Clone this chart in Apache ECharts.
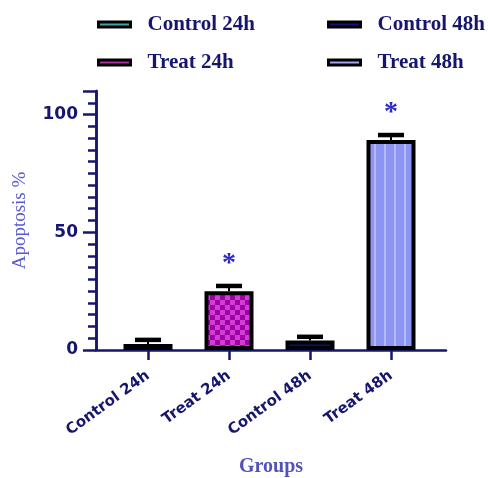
<!DOCTYPE html>
<html>
<head>
<meta charset="utf-8">
<script src="https://cdn.jsdelivr.net/npm/echarts@6/dist/echarts.min.js"></script>
<style>
  html, body { margin: 0; padding: 0; background: #fff; }
  #chart { width: 488px; height: 478px; }
</style>
</head>
<body>
<div id="chart"></div>
<script>
// Apoptosis (%) per group, mean with upper error bar
const categories = ['Control 24h', 'Treat 24h', 'Control 48h', 'Treat 48h'];
const means = [2.5, 25.0, 4.0, 89.2];
const errors = [1.8, 2.2, 1.6, 2.1];
const significance = ['', '*', '', '*'];
const legendRows = [['Control 24h', 'Control 48h'], ['Treat 24h', 'Treat 48h']];
const majorTicks = [0, 50, 100];

const NAVY = '#16166e';

function pattern(w, h, draw) {
  const c = document.createElement('canvas');
  c.width = w; c.height = h;
  draw(c.getContext('2d'));
  return { image: c, repeat: 'repeat' };
}

// fills for each group
const fills = {
  'Control 24h': pattern(8, 6, ctx => {
    ctx.fillStyle = '#2f7fc4'; ctx.fillRect(0, 0, 8, 6);
    ctx.fillStyle = '#3fb3b8'; ctx.fillRect(0, 2, 8, 2);
  }),
  'Treat 24h': pattern(10, 10, ctx => {
    ctx.fillStyle = '#a000a8'; ctx.fillRect(0, 0, 10, 10);
    ctx.fillStyle = '#d040d0'; ctx.fillRect(0, 0, 5, 5); ctx.fillRect(5, 5, 5, 5);
  }),
  'Control 48h': '#0c0c86',
  'Treat 48h': pattern(10, 8, ctx => {
    ctx.fillStyle = '#8c95f4'; ctx.fillRect(0, 0, 10, 8);
    ctx.fillStyle = '#b4baff'; ctx.fillRect(4, 0, 2, 8);
  })
};
const legendColors = {
  'Control 24h': '#3aa8aa',
  'Treat 24h': '#b02aa8',
  'Control 48h': '#141478',
  'Treat 48h': '#a0a6f4'
};

const chart = echarts.init(document.getElementById('chart'), null, { renderer: 'canvas' });

const legendPos = [[92, 322], [92, 322]];
const legendTops = [9, 47];
const legends = [];
legendRows.forEach((row, r) => {
  row.forEach((name, c) => {
    legends.push({
      data: [{ name: name, itemStyle: { color: legendColors[name], borderColor: '#000', borderWidth: 3 } }],
      left: legendPos[r][c],
      top: legendTops[r],
      icon: 'rect',
      itemWidth: 32,
      itemHeight: 5,
      selectedMode: false,
      textStyle: {
        fontFamily: 'Liberation Serif',
        fontWeight: 'bold',
        fontSize: 21,
        color: NAVY,
        padding: [0, 0, 0, 12]
      }
    });
  });
});

const barSeries = categories.map((name, i) => ({
  name: name,
  type: 'bar',
  xAxisIndex: 0,
  yAxisIndex: 0,
  barWidth: 49,
  barGap: '-100%',
  data: [[i, means[i]]],
  itemStyle: { color: fills[name], borderColor: '#000', borderWidth: 4 },
  z: 3
}));

const errorSeries = {
  type: 'custom',
  xAxisIndex: 0,
  yAxisIndex: 0,
  data: categories.map((c, i) => [i, means[i], errors[i]]),
  z: 4,
  renderItem: function (params, api) {
    const i = api.value(0);
    const base = api.coord([i, api.value(1)]);
    const top = api.coord([i, api.value(1) + api.value(2)]);
    const children = [
      { type: 'line', shape: { x1: top[0], y1: base[1], x2: top[0], y2: top[1] }, style: { stroke: '#000', lineWidth: 2 } },
      { type: 'line', shape: { x1: top[0] - 13, y1: top[1], x2: top[0] + 13, y2: top[1] }, style: { stroke: '#000', lineWidth: 4.5 } }
    ];
    const mark = significance[i];
    if (mark) {
      children.push({
        type: 'text',
        x: top[0], y: top[1] - 8,
        style: {
          text: mark,
          fill: '#2a2ac8',
          font: 'bold 28px "Liberation Serif"',
          align: 'center',
          verticalAlign: 'bottom'
        }
      });
    }
    return { type: 'group', children: children };
  }
};

const yAxisCommon = {
  type: 'value',
  min: 0,
  max: 110,
  position: 'left',
  splitLine: { show: false },
  axisLine: { show: true, onZero: false, lineStyle: { color: NAVY, width: 2.5 } }
};

chart.setOption({
  animation: false,
  backgroundColor: '#fff',
  legend: legends,
  grid: { left: 96, right: 42, top: 91, bottom: 128, containLabel: false, outerBoundsMode: 'none' },
  xAxis: {
    type: 'value',
    min: -0.642,
    max: 3.679,
    splitLine: { show: false },
    axisLine: { show: true, onZero: false, lineStyle: { color: NAVY, width: 2.5 } },
    axisTick: { show: true, customValues: [0, 1, 2, 3], length: 10, lineStyle: { color: NAVY, width: 2.5 } },
    axisLabel: {
      customValues: [0, 1, 2, 3],
      formatter: v => categories[Math.round(v)],
      rotate: 36,
      margin: 24,
      color: NAVY,
      fontFamily: 'DejaVu Sans',
      fontWeight: 'bold',
      fontSize: 15
    },
    name: 'Groups',
    nameLocation: 'middle',
    nameGap: 107,
    nameTextStyle: { fontFamily: 'Liberation Serif', fontWeight: 'bold', fontSize: 20, color: '#5252ba' }
  },
  yAxis: [
    Object.assign({}, yAxisCommon, {
      interval: 5,
      axisTick: { show: true, length: 8, lineStyle: { color: NAVY, width: 2.5 } },
      axisLabel: { show: false }
    }),
    Object.assign({}, yAxisCommon, {
      interval: 50,
      offset: 0,
      axisTick: { show: true, length: 13, lineStyle: { color: NAVY, width: 2.5 } },
      axisLabel: {
        margin: 18,
        color: NAVY,
        fontFamily: 'DejaVu Sans',
        fontWeight: 'bold',
        fontSize: 17,
        formatter: v => (majorTicks.indexOf(v) >= 0 ? String(v) : '')
      },
      name: 'Apoptosis %',
      nameLocation: 'middle',
      nameGap: 66,
      nameTextStyle: { fontFamily: 'Liberation Serif', fontSize: 19, color: '#5a5ad0' }
    })
  ],
  series: barSeries.concat([errorSeries])
});
</script>
</body>
</html>
